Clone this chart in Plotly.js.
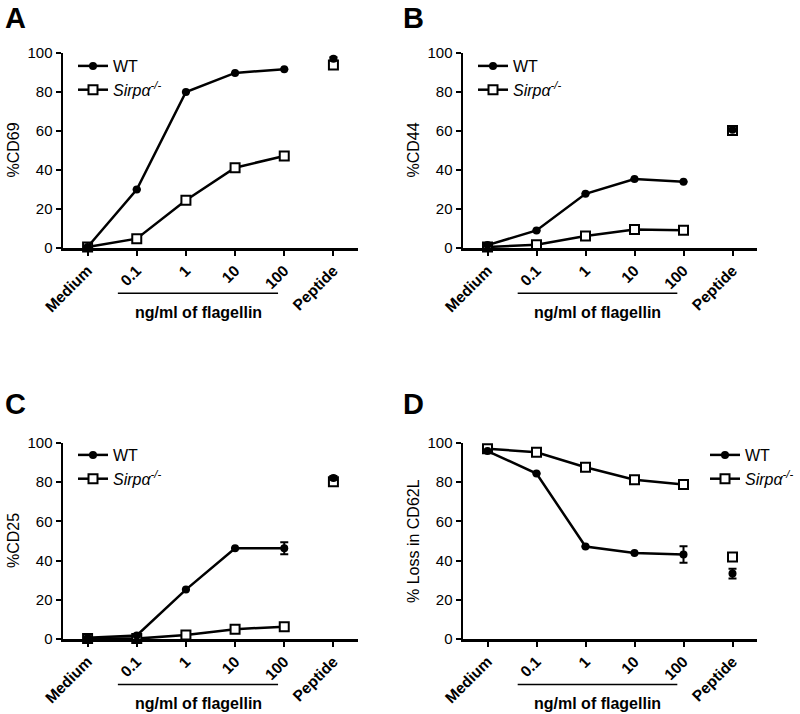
<!DOCTYPE html>
<html>
<head>
<meta charset="utf-8">
<script src="https://cdn.plot.ly/plotly-3.0.1.min.js"></script>
<style>html,body{margin:0;padding:0;background:#fff}#chart{width:800px;height:714px}</style>
</head>
<body>
<div id="chart"></div>
<script>
// categories
const cats = ['Medium', '0.1', '1', '10', '100', 'Peptide'];
const legendNames = ['WT', '<i>Sirpα<sup>-/-</sup></i>'];
const panelLetters = ['A', 'B', 'C', 'D'];
const yTitles = ['%CD69', '%CD44', '%CD25', '% Loss in CD62L'];
const yTicks = [0, 20, 40, 60, 80, 100];
const groupLabel = 'ng/ml of flagellin';

// Panel A: %CD69
const wtA = [0.5, 30, 80, 89.8, 91.7, 97];
const koA = [0.5, 4.8, 24.5, 41.2, 47.2, 93.8];
const wtAerr = [0, 0, 0, 0, 0, 0.8];
const koAerr = [0, 0, 0, 0, 0, 1];
// Panel B: %CD44
const wtB = [1.5, 9, 27.8, 35.4, 34, 60.6];
const koB = [0.5, 1.7, 6.2, 9.5, 9.1, 60.2];
const wtBerr = [0, 0, 0, 0, 0, 0];
const koBerr = [0, 0, 0, 0, 0, 0];
// Panel C: %CD25
const wtC = [0.6, 1.8, 25.2, 46.3, 46.3, 82.2];
const koC = [0.3, 0.2, 2, 5, 6.3, 80.2];
const wtCerr = [0, 0, 0, 0, 3, 1];
const koCerr = [0, 0, 0, 0, 0, 1];
// Panel D: % Loss in CD62L
const wtD = [95.9, 84.4, 47.2, 43.9, 43.1, 33.4];
const koD = [97.1, 95.3, 87.6, 81.3, 78.8, 41.8];
const wtDerr = [0, 0, 0, 0, 4.2, 2.5];
const koDerr = [0, 0, 0, 0, 1.5, 2];

const panels = [
  {wt: wtA, ko: koA, wtErr: wtAerr, koErr: koAerr},
  {wt: wtB, ko: koB, wtErr: wtBerr, koErr: koBerr},
  {wt: wtC, ko: koC, wtErr: wtCerr, koErr: koCerr},
  {wt: wtD, ko: koD, wtErr: wtDerr, koErr: koDerr}
];

const W = 800, H = 714;
const FONT = 'Liberation Sans, Arimo, Helvetica, sans-serif';
// pixel geometry of the four plot areas: [left, right, top(100), bottom(0)]
const boxes = [[63, 358, 53, 248], [463, 757, 53, 248], [63, 358, 443, 639], [463, 757, 443, 639]];
// legend placement (left px, top px)
const legendPos = [[73, 49], [473, 49], [73, 438], [705, 438]];

const data = [];
const layout = {
  width: W, height: H,
  margin: {l: 0, r: 0, t: 0, b: 0},
  paper_bgcolor: '#fff', plot_bgcolor: '#fff',
  showlegend: true,
  font: {family: FONT, color: '#000'},
  annotations: [], shapes: []
};

function errObj(arr) {
  return {type: 'data', array: arr, visible: true, color: '#000', thickness: 2, width: 4};
}

panels.forEach((p, i) => {
  const n = i === 0 ? '' : String(i + 1);
  const xa = 'x' + n, ya = 'y' + n;
  const lg = 'legend' + n;
  const b = boxes[i];
  const lineCats = cats.slice(0, 5);
  const pepCat = cats.slice(5);
  const koMarker = {symbol: 'square', size: 9, color: '#fff', line: {color: '#000', width: 2}};
  const wtMarker = {symbol: 'circle', size: 8, color: '#000', line: {color: '#000', width: 0}};
  // Sirpα-/- line
  data.push({
    x: lineCats, y: p.ko.slice(0, 5), xaxis: xa, yaxis: ya, type: 'scatter', mode: 'lines+markers',
    name: legendNames[1], legend: lg, legendrank: 2,
    line: {color: '#000', width: 2.5}, marker: koMarker, cliponaxis: false,
    error_y: errObj(p.koErr.slice(0, 5))
  });
  // WT line
  data.push({
    x: lineCats, y: p.wt.slice(0, 5), xaxis: xa, yaxis: ya, type: 'scatter', mode: 'lines+markers',
    name: legendNames[0], legend: lg, legendrank: 1,
    line: {color: '#000', width: 2.5}, marker: wtMarker, cliponaxis: false,
    error_y: errObj(p.wtErr.slice(0, 5))
  });
  // Peptide points
  data.push({
    x: pepCat, y: p.ko.slice(5), xaxis: xa, yaxis: ya, type: 'scatter', mode: 'markers',
    showlegend: false, marker: koMarker, cliponaxis: false, error_y: errObj(p.koErr.slice(5))
  });
  data.push({
    x: pepCat, y: p.wt.slice(5), xaxis: xa, yaxis: ya, type: 'scatter', mode: 'markers',
    showlegend: false, marker: wtMarker, cliponaxis: false, error_y: errObj(p.wtErr.slice(5))
  });

  layout['xaxis' + n] = {
    domain: [b[0] / W, b[1] / W], anchor: ya, type: 'category',
    categoryorder: 'array', categoryarray: cats, range: [-0.5, 5.5],
    showline: true, linecolor: '#000', linewidth: 2.5, showgrid: false, zeroline: false,
    ticks: 'outside', ticklen: 5, tickwidth: 2, tickcolor: '#000',
    tickangle: -45, tickfont: {family: FONT, size: 15.5, color: '#000', weight: 'bold'},
    fixedrange: true
  };
  layout['yaxis' + n] = {
    domain: [1 - b[3] / H, 1 - b[2] / H], anchor: xa, range: [0, 100],
    tickvals: yTicks, showline: true, linecolor: '#000', linewidth: 2.5,
    showgrid: false, zeroline: false, ticks: 'outside', ticklen: 5, tickwidth: 2, tickcolor: '#000',
    tickfont: {family: FONT, size: 15, color: '#000'}, fixedrange: true
  };
  layout[lg] = {
    x: legendPos[i][0] / W, y: 1 - legendPos[i][1] / H, xanchor: 'left', yanchor: 'top',
    bgcolor: 'rgba(0,0,0,0)', font: {family: FONT, size: 16, color: '#000'},
    itemwidth: 30, tracegroupgap: 0, traceorder: 'normal'
  };
  // panel letter
  layout.annotations.push({
    xref: 'paper', yref: 'paper', x: (i % 2 === 0 ? 3 : 401) / W, y: 1 - (i < 2 ? 0 : 386) / H,
    xanchor: 'left', yanchor: 'top', showarrow: false, text: '<b>' + panelLetters[i] + '</b>',
    font: {family: FONT, size: 29, color: '#000'}
  });
  // y title
  layout.annotations.push({
    xref: 'paper', yref: 'paper', x: (b[0] - 50) / W, y: 1 - ((b[2] + b[3]) / 2) / H,
    xanchor: 'center', yanchor: 'middle', textangle: -90, showarrow: false, text: yTitles[i],
    font: {family: FONT, size: 16, color: '#000'}
  });
  // group label
  layout.annotations.push({
    xref: xa + ' domain', yref: ya + ' domain', x: 0.458, y: -0.33,
    xanchor: 'center', yanchor: 'middle', showarrow: false, text: '<b>' + groupLabel + '</b>',
    font: {family: FONT, size: 16, color: '#000'}
  });
  layout.shapes.push({
    type: 'line', xref: xa + ' domain', yref: ya + ' domain', x0: 0.186, x1: 0.729, y0: -0.232, y1: -0.232,
    line: {color: '#000', width: 1.5}
  });
});

Plotly.newPlot('chart', data, layout, {displayModeBar: false, staticPlot: true});
</script>
</body>
</html>
